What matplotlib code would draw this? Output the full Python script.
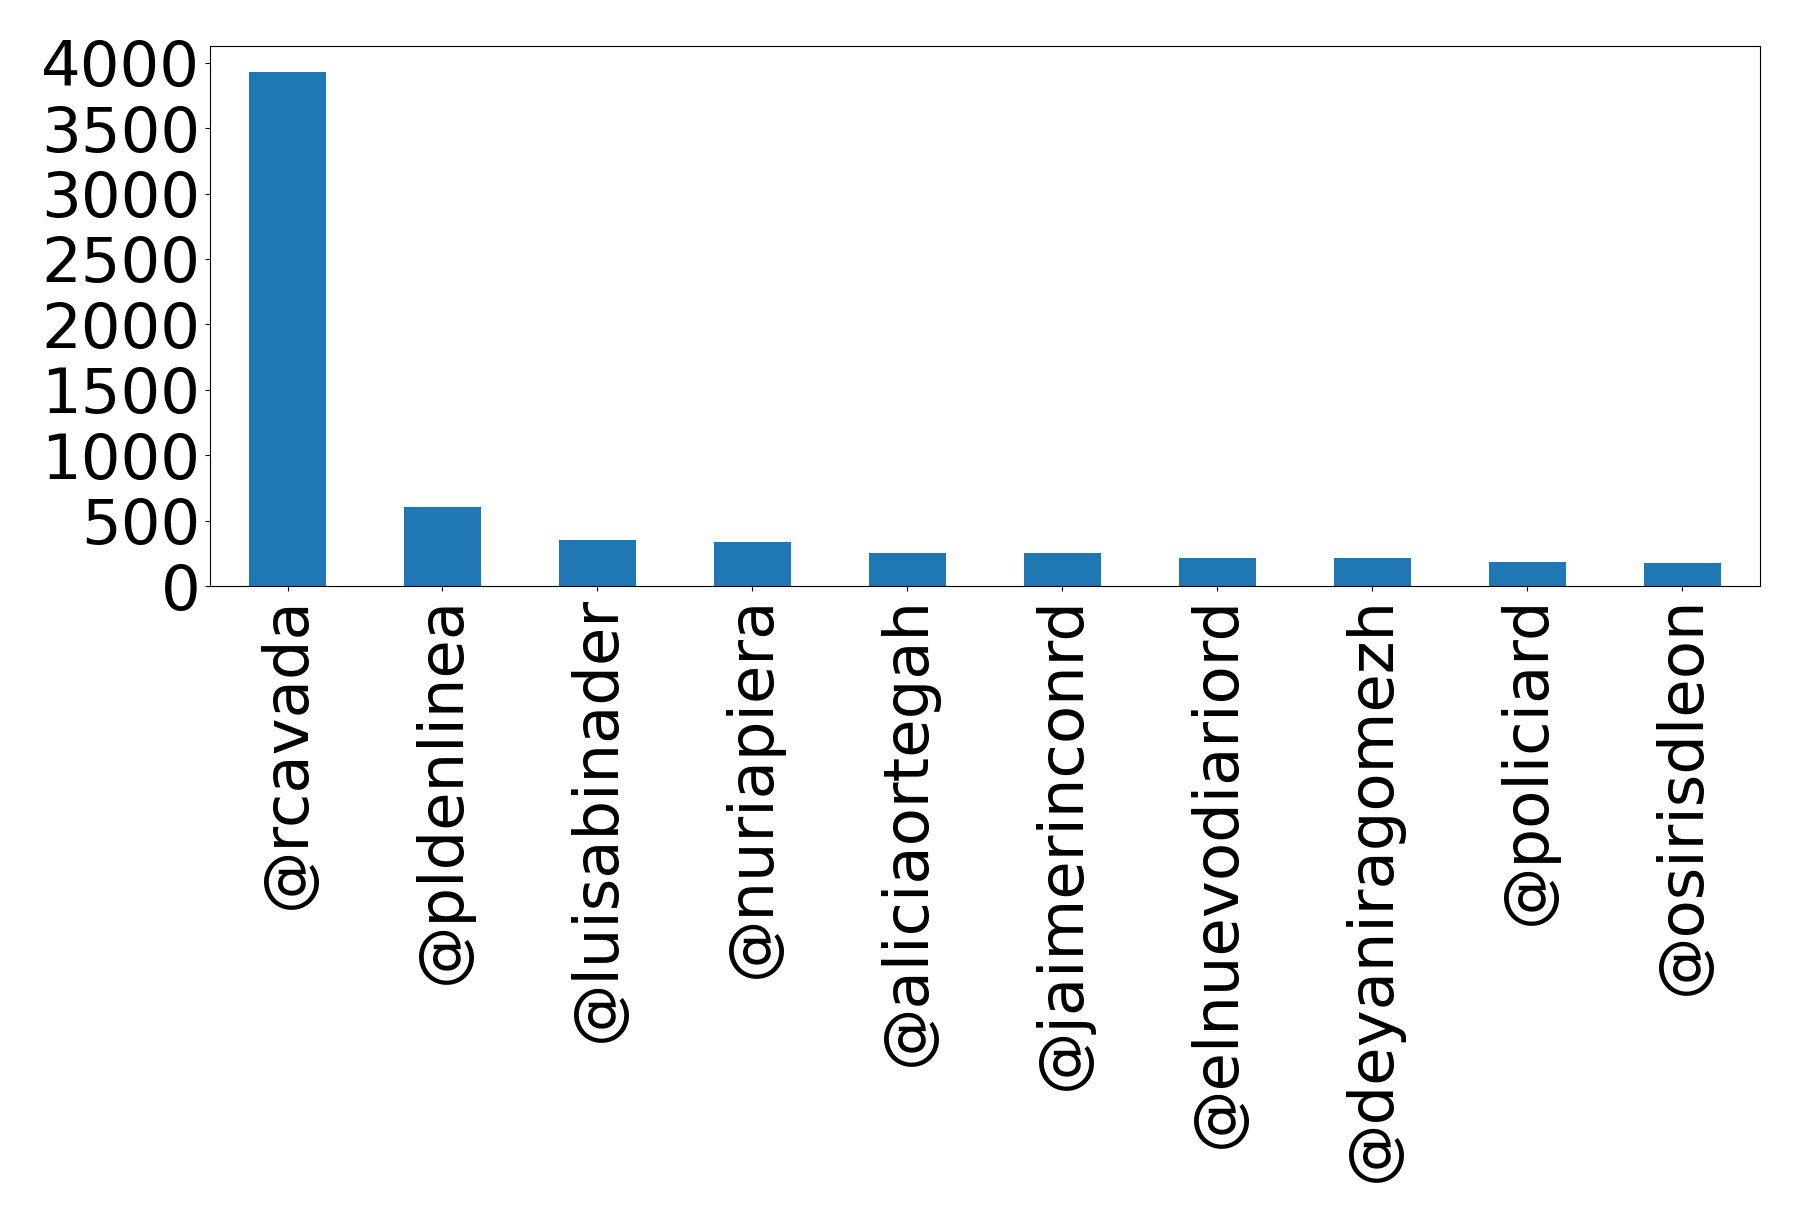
import matplotlib
matplotlib.use("Agg")
import matplotlib.pyplot as plt
import pandas as pd

# comptes de mentions par compte
cuentas = ["@rcavada", "@pldenlinea", "@luisabinader", "@nuriapiera",
           "@aliciaortegah", "@jaimerinconrd", "@elnuevodiariord",
           "@deyaniragomezh", "@policiard", "@osirisdleon"]
menciones = [3931, 608, 354, 338, 254, 254, 215, 215, 185, 177]
ticks_y = [0, 500, 1000, 1500, 2000, 2500, 3000, 3500, 4000]

serie = pd.Series(menciones, index=cuentas)

fig = plt.figure(figsize=(17.98, 12.21), dpi=100)
ax = fig.add_axes([0.1168, 0.520, 0.862, 0.4423])
serie.plot(kind="bar", ax=ax)
ax.set_yticks(ticks_y)
ax.tick_params(axis="both", labelsize=45)

fig.savefig("out.png", dpi=100)
